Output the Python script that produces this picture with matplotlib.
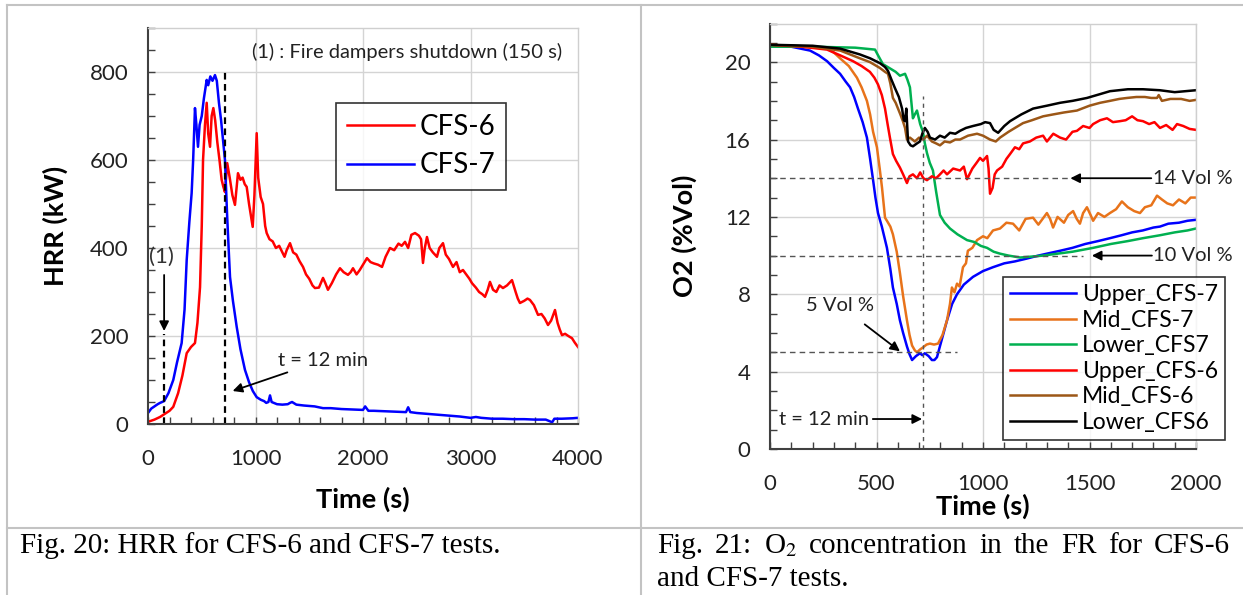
import matplotlib
matplotlib.use("Agg")
import matplotlib.pyplot as plt
from matplotlib.lines import Line2D
from matplotlib.ticker import MultipleLocator

plt.rcParams["font.family"] = ["Lato", "DejaVu Sans"]
plt.rcParams["mathtext.fontset"] = "stix"

# ---- Fig. 20 : HRR ----
t_cfs6 = [0, 60, 112, 150, 200, 235, 280, 320, 360, 400, 437, 460, 484, 500, 512, 530, 546, 560, 577, 592,
          608, 625, 645, 665, 685, 700, 716, 737, 760, 785, 809, 825, 837, 860, 880, 900, 918, 940, 960, 974,
          990, 1011, 1025, 1048, 1070, 1090, 1104, 1130, 1160, 1190, 1220, 1250, 1270, 1290, 1321, 1350, 1380,
          1410, 1442, 1470, 1500, 1530, 1553, 1590, 1628, 1650, 1674, 1710, 1750, 1786, 1820, 1860, 1885, 1907,
          1940, 1970, 2000, 2037, 2070, 2100, 2140, 2177, 2210, 2251, 2290, 2330, 2360, 2391, 2420, 2450, 2484,
          2520, 2540, 2558, 2575, 2595, 2620, 2650, 2688, 2710, 2744, 2770, 2800, 2837, 2870, 2900, 2930, 2960,
          2990, 3014, 3050, 3080, 3110, 3135, 3160, 3181, 3210, 3240, 3270, 3302, 3340, 3386, 3420, 3440, 3460,
          3500, 3530, 3553, 3590, 3628, 3660, 3690, 3721, 3750, 3786, 3810, 3830, 3851, 3880, 3910, 3944, 3970, 4000]
hrr_cfs6 = [5, 10, 16, 22, 30, 39, 70, 110, 161, 175, 184, 230, 311, 450, 600, 680, 730, 660, 630, 700,
            718, 690, 640, 600, 555, 540, 527, 593, 560, 520, 498, 540, 570, 555, 560, 545, 539, 500, 470, 448,
            520, 661, 560, 516, 500, 450, 434, 420, 415, 400, 405, 390, 380, 395, 411, 390, 385,
            370, 357, 340, 330, 315, 309, 310, 332, 320, 305, 320, 340, 354, 345, 339, 345, 354,
            340, 350, 362, 377, 368, 365, 362, 357, 380, 400, 395, 410, 405, 414, 400, 430, 434,
            428, 420, 366, 400, 425, 400, 390, 380, 400, 411, 385, 375, 357, 368, 345, 350, 340,
            330, 320, 310, 300, 295, 289, 305, 323, 305, 300, 315, 309, 315, 327, 300, 285, 275,
            280, 285, 282, 270, 248, 250, 240, 225, 235, 259, 230, 215, 202, 205, 200, 195, 185, 175]

t_cfs7 = [0, 30, 60, 90, 112, 150, 190, 235, 270, 313, 340, 360, 385, 406, 420, 437, 450, 465, 480, 500,
          520, 546, 560, 580, 600, 623, 640, 660, 680, 700, 716, 735, 750, 763, 790, 825, 860, 902, 940, 975,
          1011, 1050, 1080, 1100, 1120, 1135, 1150, 1200, 1250, 1300, 1321, 1340, 1380, 1450, 1550, 1628, 1700,
          1800, 1900, 2000, 2020, 2050, 2100, 2200, 2300, 2400, 2420, 2440, 2500, 2600, 2700, 2800, 2900, 3000,
          3050, 3100, 3200, 3300, 3400, 3500, 3600, 3700, 3760, 3780, 3850, 3950, 4000]
hrr_cfs7 = [25, 35, 40, 45, 48, 52, 70, 100, 140, 184, 260, 373, 460, 525, 600, 718, 680, 630, 680, 700,
            740, 782, 770, 790, 780, 793, 780, 730, 690, 640, 600, 480, 400, 334, 280, 221, 170, 123, 95, 75,
            61, 55, 52, 48, 50, 65, 50, 45, 44, 45, 48, 50, 44, 42, 40, 36, 36,
            34, 33, 32, 40, 30, 30, 29, 28, 27, 38, 27, 25, 23, 21, 19, 17, 14,
            16, 14, 12, 12, 11, 11, 10, 10, 4, 12, 12, 13, 14]

# ---- Fig. 21 : O2 ----
t_up7 = [0, 100, 188, 230, 268, 300, 329, 355, 376, 395, 413, 435, 455, 470, 484, 495, 507, 525, 549, 565,
         577, 595, 610, 625, 643, 655, 667, 685, 704, 715, 727, 745, 760, 772, 784, 800, 815, 831, 855, 878,
         910, 953, 1000, 1047, 1100, 1150, 1207, 1260, 1300, 1362, 1420, 1480, 1540, 1596, 1650, 1700, 1750,
         1800, 1831, 1870, 1920, 1960, 2000]
o2_up7 = [20.85, 20.8, 20.6, 20.35, 20.05, 19.7, 19.4, 19.0, 18.7, 18.2, 17.6, 16.9, 16.1, 15.0, 13.9, 13.0,
          12.2, 11.5, 10.4, 9.3, 8.35, 7.5, 6.65, 6.0, 5.3, 4.9, 4.6, 4.8, 4.95, 4.85, 4.95, 4.8, 4.6, 4.6,
          4.75, 5.4, 6.0, 6.65, 7.5, 8.0, 8.5, 8.9, 9.2, 9.4, 9.6, 9.7, 9.85, 10.0, 10.1, 10.25, 10.4, 10.6,
          10.75, 10.9, 11.05, 11.2, 11.3, 11.45, 11.5, 11.65, 11.7, 11.8, 11.85]

t_mid7 = [0, 150, 268, 300, 329, 370, 408, 430, 455, 470, 484, 502, 515, 526, 540, 549, 565, 577, 595, 610,
          625, 643, 655, 667, 680, 690, 705, 718, 735, 751, 770, 789, 810, 831, 845, 854, 866, 878, 890, 906,
          920, 929, 950, 972, 1000, 1020, 1047, 1080, 1110, 1141, 1170, 1200, 1235, 1260, 1300, 1315, 1329,
          1350, 1380, 1400, 1423, 1440, 1455, 1470, 1488, 1505, 1517, 1540, 1570, 1596, 1625, 1652, 1680,
          1710, 1737, 1760, 1790, 1817, 1840, 1865, 1892, 1920, 1950, 1975, 2000]
o2_mid7 = [20.85, 20.8, 20.7, 20.5, 20.2, 19.8, 19.2, 18.7, 18.0, 17.3, 16.4, 15.6, 14.5, 13.5, 11.96, 11.8,
           11.5, 11.1, 10.2, 9.1, 7.9, 6.65, 5.9, 5.35, 5.1, 5.0, 5.15, 5.25, 5.4, 5.45, 5.4, 5.45, 5.9, 6.65,
           7.5, 8.35, 8.1, 8.55, 8.4, 9.4, 9.6, 10.25, 10.4, 10.8, 11.0, 10.9, 11.3, 11.4, 11.7, 11.65, 11.3,
           11.9, 11.96, 11.6, 12.2, 11.9, 11.45, 12.0, 11.7, 12.1, 12.3, 11.9, 11.65, 12.2, 12.5, 12.1, 11.8,
           12.2, 12.0, 12.2, 12.4, 12.8, 12.5, 12.3, 12.2, 12.5, 12.6, 13.1, 12.9, 12.7, 12.6, 12.9, 12.7,
           13.0, 13.0]

t_low7 = [0, 200, 400, 493, 510, 530, 560, 590, 610, 634, 645, 657, 671, 680, 690, 705, 718, 727, 737, 750,
          765, 780, 798, 820, 845, 880, 925, 960, 990, 1019, 1050, 1080, 1120, 1174, 1230, 1282, 1350, 1420,
          1517, 1600, 1680, 1751, 1830, 1900, 1960, 2000]
o2_low7 = [20.8, 20.8, 20.75, 20.65, 20.3, 19.9, 19.7, 19.5, 19.3, 19.4, 19.1, 18.7, 17.1, 17.3, 17.5, 16.8,
           16.4, 15.8, 15.3, 14.8, 14.4, 13.3, 12.1, 11.7, 11.4, 11.1, 10.8, 10.7, 10.5, 10.4, 10.2, 10.1,
           10.0, 9.9, 9.95, 10.0, 10.1, 10.2, 10.4, 10.6, 10.75, 10.9, 11.05, 11.2, 11.3, 11.4]

t_up6 = [0, 150, 268, 330, 390, 430, 469, 490, 507, 525, 540, 552, 563, 577, 592, 610, 625, 643, 655, 671,
         690, 705, 720, 737, 760, 780, 798, 815, 831, 860, 892, 910, 925, 950, 970, 986, 1000, 1019, 1026,
         1033, 1045, 1055, 1066, 1090, 1110, 1127, 1150, 1170, 1188, 1220, 1250, 1282, 1300, 1330, 1362,
         1390, 1420, 1441, 1470, 1500, 1517, 1550, 1582, 1610, 1643, 1670, 1700, 1725, 1751, 1780, 1805,
         1831, 1860, 1890, 1911, 1940, 1970, 2000]
o2_up6 = [20.9, 20.8, 20.65, 20.35, 20.05, 19.8, 19.5, 19.2, 18.85, 18.3, 17.6, 16.8, 16.1, 15.25, 14.9,
          14.55, 14.2, 13.75, 14.1, 14.2, 14.0, 14.3, 14.0, 13.9, 14.1, 14.0, 14.2, 14.4, 14.2, 14.5, 14.4,
          14.6, 13.95, 14.5, 14.8, 15.05, 14.9, 15.15, 14.5, 13.2, 13.5, 14.2, 14.4, 14.6, 15.0, 15.25, 15.6,
          15.5, 15.8, 15.9, 16.1, 16.2, 15.9, 16.3, 16.1, 16.0, 16.4, 16.45, 16.7, 16.6, 16.8, 17.0, 17.1,
          16.9, 16.95, 17.0, 17.2, 17.0, 16.95, 16.8, 16.9, 16.6, 16.75, 16.5, 16.8, 16.7, 16.55, 16.5]

t_mid6 = [0, 200, 330, 422, 470, 516, 540, 554, 565, 577, 590, 601, 612, 624, 634, 643, 657, 680, 700, 720,
          737, 760, 780, 798, 820, 845, 870, 892, 930, 972, 1000, 1033, 1060, 1080, 1120, 1150, 1188, 1230,
          1282, 1330, 1380, 1441, 1500, 1550, 1596, 1640, 1676, 1720, 1760, 1790, 1817, 1825, 1840, 1880,
          1930, 1970, 2000]
o2_mid6 = [20.9, 20.8, 20.6, 20.2, 20.0, 19.7, 19.5, 19.4, 18.9, 18.15, 17.9, 17.6, 17.3, 16.95, 16.6, 16.0,
           16.1, 15.9, 16.1, 16.0, 16.2, 15.9, 15.8, 15.7, 15.9, 15.85, 16.0, 16.0, 16.2, 16.3, 16.2, 16.0,
           15.9, 16.1, 16.4, 16.6, 16.85, 17.0, 17.2, 17.3, 17.4, 17.5, 17.75, 17.9, 18.0, 18.1, 18.15, 18.2,
           18.2, 18.15, 18.15, 18.3, 18.0, 18.1, 18.1, 18.0, 18.05]

t_low6 = [0, 200, 330, 422, 470, 516, 540, 554, 570, 587, 605, 620, 628, 634, 640, 648, 660, 671, 690, 704,
          715, 727, 740, 751, 775, 798, 820, 845, 870, 892, 920, 953, 990, 1010, 1033, 1050, 1071, 1100, 1127,
          1180, 1235, 1300, 1362, 1420, 1488, 1550, 1596, 1680, 1751, 1830, 1900, 1950, 2000]
o2_low6 = [20.9, 20.85, 20.7, 20.4, 20.2, 19.95, 19.75, 19.55, 19.1, 18.65, 18.2, 17.6, 17.0, 16.95, 17.6,
           15.9, 15.7, 15.65, 15.8, 15.9, 16.3, 16.6, 16.4, 16.1, 16.0, 16.2, 16.1, 16.35, 16.3, 16.45, 16.6,
           16.7, 16.8, 16.9, 16.85, 16.5, 16.35, 16.7, 16.95, 17.3, 17.6, 17.75, 17.9, 18.0, 18.15, 18.35,
           18.5, 18.6, 18.6, 18.55, 18.45, 18.5, 18.55]

o2_series = [
    ("Upper_CFS-7", t_up7, o2_up7, "#0000ff"),
    ("Mid_CFS-7", t_mid7, o2_mid7, "#e8731a"),
    ("Lower_CFS7", t_low7, o2_low7, "#00b050"),
    ("Upper_CFS-6", t_up6, o2_up6, "#ff0000"),
    ("Mid_CFS-6", t_mid6, o2_mid6, "#9c5717"),
    ("Lower_CFS6", t_low6, o2_low6, "#000000"),
]

TICK_FS = 16
LAB_FS = 19.5
ANN_FS = 14.5
LW = 1.8


def style_axes(ax, xpad, ypad):
    ax.grid(True, which="major", color="#d4d4d4", lw=1)
    ax.set_axisbelow(True)
    for s in ["top", "right"]:
        ax.spines[s].set_color("#cfcfcf")
        ax.spines[s].set_linewidth(1)
    for s in ["left", "bottom"]:
        ax.spines[s].set_color("#404040")
        ax.spines[s].set_linewidth(1.5)
    ax.tick_params(which="both", direction="in", length=5, width=1, color="#404040",
                   labelsize=TICK_FS, labelcolor="#222222", top=False, right=False)
    ax.tick_params(axis="x", pad=xpad)
    ax.tick_params(axis="y", pad=ypad)


fig = plt.figure(figsize=(12.43, 5.95), dpi=100)

# table borders
grey = "#c3c3c3"
for xs, ys in [([7, 1243], [4.5, 4.5]), ([7, 7], [4.5, 595]), ([641, 641], [4.5, 595]),
               ([7, 1243], [527.5, 527.5])]:
    fig.add_artist(Line2D([x / 1243 for x in xs], [1 - y / 595 for y in ys], color=grey, lw=1.5))

# left chart
ax1 = fig.add_axes([148 / 1243, 1 - 424 / 595, 430 / 1243, 396 / 595])
ax1.plot(t_cfs6, hrr_cfs6, color="#ff0000", lw=LW, label="CFS-6")
ax1.plot(t_cfs7, hrr_cfs7, color="#0000ff", lw=LW, label="CFS-7")
ax1.set_xlim(0, 4000)
ax1.set_ylim(0, 900)
ax1.set_xticks([0, 1000, 2000, 3000, 4000])
ax1.set_yticks([0, 200, 400, 600, 800])
ax1.xaxis.set_minor_locator(MultipleLocator(200))
ax1.yaxis.set_minor_locator(MultipleLocator(50))
style_axes(ax1, 18, 14)
ax1.grid(False)
for v in [0, 200, 400, 600, 800]:
    ax1.axhline(v, color="#d4d4d4", lw=1, zorder=0)
for v in [1000, 2000, 3000]:
    ax1.axvline(v, color="#d4d4d4", lw=1, zorder=0)
ax1.set_xlabel("Time (s)", fontsize=LAB_FS, fontweight="bold", labelpad=13)
ax1.set_ylabel("HRR (kW)", fontsize=LAB_FS, fontweight="bold", labelpad=16)
ax1.plot([150, 150], [0, 205], color="black", lw=1.6, ls=(0, (3, 2)))
ax1.plot([720, 720], [0, 805], color="black", lw=1.6, ls=(0, (3, 2)))
ax1.annotate("", xy=(150, 205), xytext=(150, 345),
             arrowprops=dict(arrowstyle="-|>", color="black", lw=1.3, mutation_scale=14))
ax1.text(127, 380, "(1)", fontsize=16, ha="center", va="center", color="#333333")
ax1.annotate("t = 12 min", xy=(763, 73), xytext=(1210, 145), fontsize=ANN_FS,
             ha="left", va="center", color="#222222",
             arrowprops=dict(arrowstyle="-|>", color="black", lw=1.3, mutation_scale=14, shrinkA=2))
ax1.text(3850, 845, "(1) : Fire dampers shutdown (150 s)", fontsize=ANN_FS, ha="right",
         va="center", color="#222222")
leg1 = ax1.legend(loc="upper left", bbox_to_anchor=(0.437, 0.811), fontsize=20,
                  frameon=True, fancybox=False, edgecolor="black", handlelength=2.4,
                  borderpad=0.4, labelspacing=0.45, borderaxespad=0, handletextpad=0.2)
leg1.get_frame().set_linewidth(1.2)

# right chart
ax2 = fig.add_axes([770 / 1243, 1 - 449 / 595, 426 / 1243, 425.5 / 595])
for name, tt, vv, col in o2_series:
    ax2.plot(tt, vv, color=col, lw=LW, label=name)
ax2.set_xlim(0, 2000)
ax2.set_ylim(0, 22)
ax2.set_xticks([0, 500, 1000, 1500, 2000])
ax2.set_yticks([0, 4, 8, 12, 16, 20])
ax2.xaxis.set_minor_locator(MultipleLocator(100))
ax2.yaxis.set_minor_locator(MultipleLocator(1))
style_axes(ax2, 18, 14)
ax2.set_xlabel("Time (s)", fontsize=LAB_FS, fontweight="bold", labelpad=0)
ax2.set_ylabel("O2 (%Vol)", fontsize=LAB_FS, fontweight="bold", labelpad=20)
dash = dict(color="#555555", lw=1, ls=(0, (4, 3)))
ax2.plot([0, 1408], [14, 14], **dash)
ax2.plot([0, 1470], [10, 10], **dash)
ax2.plot([0, 878], [5, 5], **dash)
ax2.plot([720, 720], [0, 18.25], color="#555555", lw=1, ls=(0, (3, 3)))
arr = dict(arrowstyle="-|>", color="black", lw=1.3, mutation_scale=14, shrinkA=0, shrinkB=0)
ax2.annotate("", xy=(1410, 14), xytext=(1790, 14), arrowprops=arr, annotation_clip=False)
ax2.annotate("", xy=(1511, 10), xytext=(1793, 10), arrowprops=arr, annotation_clip=False)
ax2.text(1800, 14, "14 Vol %", fontsize=ANN_FS, ha="left", va="center", color="#222222")
ax2.text(1800, 10, "10 Vol %", fontsize=ANN_FS, ha="left", va="center", color="#222222")
ax2.annotate("5 Vol %", xy=(610, 5.05), xytext=(329, 7.42), fontsize=ANN_FS, ha="center",
             va="center", color="#222222",
             arrowprops=dict(arrowstyle="-|>", color="black", lw=1.3, mutation_scale=14,
                             shrinkA=9, shrinkB=0))
ax2.annotate("t = 12 min", xy=(714, 1.55), xytext=(40, 1.55), fontsize=ANN_FS, ha="left",
             va="center", color="#222222",
             arrowprops=dict(arrowstyle="-|>", color="black", lw=1.3, mutation_scale=14,
                             shrinkA=1, shrinkB=0))
leg2 = ax2.legend(loc="upper left", bbox_to_anchor=(0.547, 0.404), fontsize=16.5,
                  frameon=True, fancybox=False, edgecolor="black", handlelength=2.9,
                  borderpad=0.3, labelspacing=0.2, borderaxespad=0, handletextpad=0.25)
leg2.get_frame().set_linewidth(1.2)

# captions
cap = dict(family=["Liberation Serif", "DejaVu Serif"], fontsize=21, color="black", va="center")
fig.text(20 / 1243, 1 - 546 / 595, "Fig. 20: HRR for CFS-6 and CFS-7 tests.", **cap)

words = ["Fig.", "21:", "O$_2$", "concentration", "in", "the", "FR", "for", "CFS-6"]
fig.canvas.draw()
renderer = fig.canvas.get_renderer()
objs = [fig.text(0, 1 - 546 / 595, w, **cap) for w in words]
widths = [o.get_window_extent(renderer).width for o in objs]
left, right = 657, 1230
gap = (right - left - sum(widths)) / (len(words) - 1)
x = left
for o, w in zip(objs, widths):
    o.set_x(x / 1243)
    x += w + gap
fig.text(657 / 1243, 1 - 579 / 595, "and CFS-7 tests.", **cap)

fig.savefig("out.png", dpi=100)
